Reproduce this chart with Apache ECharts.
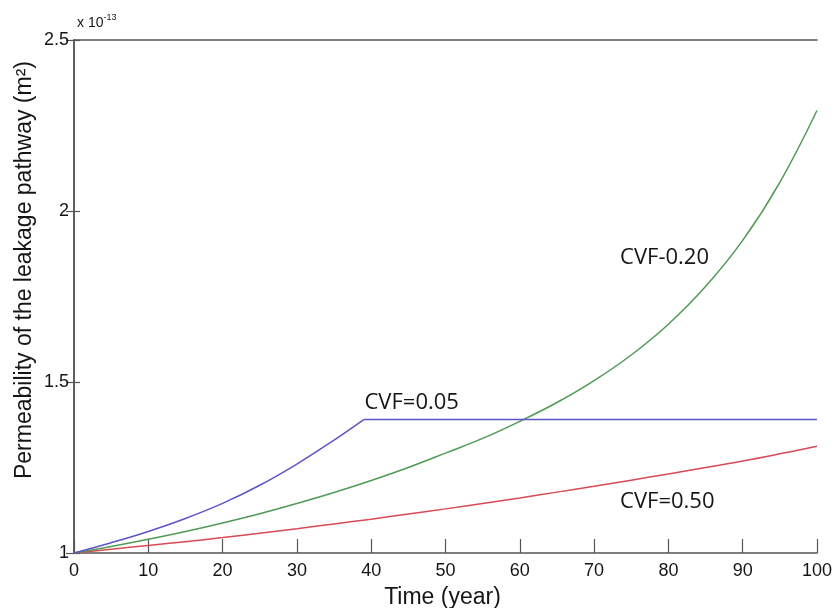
<!DOCTYPE html>
<html>
<head>
<meta charset="utf-8">
<script src="https://cdn.jsdelivr.net/npm/echarts@6/dist/echarts.min.js"></script>
<style>
  html, body { margin: 0; padding: 0; background: #fff; }
  #chart { width: 835px; height: 608px; }
</style>
</head>
<body>
<div id="chart"></div>
<script>
// Time axis (years)
const years = [0, 5, 10, 15, 20, 25, 30, 35, 40, 45, 50, 55, 60, 65, 70, 75, 80, 85, 90, 95, 100];

// Permeability of the leakage pathway, in units of 1e-13 m^2
// CVF = 0.05 rises until the pathway saturates at year 39, then stays flat
const years005 = [0, 5, 10, 15, 20, 25, 30, 35, 39, 100];
const cvf005   = [1.000, 1.030, 1.063, 1.101, 1.145, 1.198, 1.260, 1.330, 1.390, 1.390];
const cvf020 = [1.000, 1.019, 1.040, 1.063, 1.088, 1.115, 1.145, 1.177, 1.212, 1.250, 1.292, 1.335, 1.385, 1.440, 1.504, 1.579, 1.669, 1.779, 1.914, 2.084, 2.294];
const cvf050 = [1.000, 1.011, 1.022, 1.033, 1.045, 1.058, 1.071, 1.085, 1.099, 1.114, 1.129, 1.145, 1.161, 1.178, 1.195, 1.213, 1.231, 1.250, 1.269, 1.290, 1.312];

// Curve annotations: [text, x (year), y (1e-13 m^2)]
const curveLabels = [
  ['CVF=0.05', 39.1, 1.439],
  ['CVF-0.20', 73.5, 1.863],
  ['CVF=0.50', 73.5, 1.150]
];

const xTicks = { min: 0, max: 100, interval: 10 };
const yTicks = { min: 1, max: 2.5, interval: 0.5 };

const axisColor = '#555';
const textColor = '#151515';

function pairs(xs, ys) { return xs.map((x, i) => [x, ys[i]]); }

const chart = echarts.init(document.getElementById('chart'), null, { renderer: 'canvas' });

const lineSeries = (data, color, smooth) => ({
  type: 'line',
  data: data,
  showSymbol: false,
  smooth: smooth,
  lineStyle: { color: color, width: 1.5 },
  animation: false,
  z: 3
});

// Split the saturating curve at its knee so the flat part stays straight
const knee = years005.indexOf(39);
const blueAll = pairs(years005, cvf005);
const blueRise = blueAll.slice(0, knee + 1);
const blueFlat = blueAll.slice(knee);

chart.setOption({
  animation: false,
  backgroundColor: '#fff',
  grid: { left: 74, right: 16, top: 40, bottom: 55, containLabel: false },
  xAxis: [{
    type: 'value',
    min: xTicks.min, max: xTicks.max, interval: xTicks.interval,
    axisLine: { show: true, onZero: false, lineStyle: { color: axisColor, width: 1.5 } },
    axisTick: { show: true, inside: true, length: 14, lineStyle: { color: axisColor, width: 1.2 } },
    axisLabel: { color: textColor, fontFamily: 'Liberation Sans, Arial, sans-serif', fontSize: 18, margin: 9 },
    splitLine: { show: false }
  }, {
    type: 'value', position: 'top',
    min: xTicks.min, max: xTicks.max, interval: xTicks.interval,
    axisLine: { show: true, lineStyle: { color: axisColor, width: 1.5 } },
    axisTick: { show: false },
    axisLabel: { show: false },
    splitLine: { show: false }
  }],
  yAxis: [{
    type: 'value',
    min: yTicks.min, max: yTicks.max, interval: yTicks.interval,
    axisLine: { show: true, onZero: false, lineStyle: { color: axisColor, width: 1.5 } },
    axisTick: { show: true, inside: true, length: 6, lineStyle: { color: axisColor, width: 1.2 } },
    axisLabel: { color: textColor, fontFamily: 'Liberation Sans, Arial, sans-serif', fontSize: 18, margin: 5 },
    splitLine: { show: false }
  }, {
    type: 'value', position: 'right',
    min: yTicks.min, max: yTicks.max, interval: yTicks.interval,
    axisLine: { show: true, lineStyle: { color: axisColor, width: 1.5 } },
    axisTick: { show: true, inside: true, length: 8, lineStyle: { color: axisColor, width: 1.2 } },
    axisLabel: { show: false },
    splitLine: { show: false }
  }],
  series: [
    lineSeries(pairs(years, cvf050), '#d84a55', 0.4),
    lineSeries(pairs(years, cvf020), '#4f9a55', 0.4),
    lineSeries(blueRise, '#5c55c8', 0.4),
    lineSeries(blueFlat, '#5c55c8', false)
  ]
});

// Annotations placed through the grid's coordinate system
const graphics = curveLabels.map(([txt, x, y]) => {
  const p = chart.convertToPixel({ gridIndex: 0 }, [x, y]);
  return {
    type: 'text', x: p[0], y: p[1], z: 10,
    style: {
      text: txt, fill: textColor,
      font: '22px "Open Sans", sans-serif',
      textAlign: 'left', textVerticalAlign: 'middle'
    }
  };
});

const topLeft = chart.convertToPixel({ gridIndex: 0 }, [xTicks.min, yTicks.max]);
const bottomRight = chart.convertToPixel({ gridIndex: 0 }, [xTicks.max, yTicks.min]);

// Exponent multiplier above the y axis
graphics.push({
  type: 'text', x: topLeft[0] + 3, y: topLeft[1] - 10, z: 10,
  style: {
    text: '{b|x 10}{s|-13}',
    textVerticalAlign: 'bottom',
    rich: {
      b: { font: '14px "Liberation Sans", Arial, sans-serif', fill: textColor, verticalAlign: 'bottom' },
      s: { font: '9px "Liberation Sans", Arial, sans-serif', fill: textColor, verticalAlign: 'top', padding: [0, 0, 8, 0] }
    }
  }
});

// X axis title
graphics.push({
  type: 'text', x: (topLeft[0] + bottomRight[0]) / 2 - 3, y: 598, z: 10,
  style: {
    text: 'Time (year)', fill: textColor,
    font: '23px "Liberation Sans", Arial, sans-serif',
    textAlign: 'center', textVerticalAlign: 'middle'
  }
});

// Y axis title (rotated)
graphics.push({
  type: 'text', x: 25, y: 270, rotation: Math.PI / 2, z: 10,
  style: {
    text: 'Permeability of the leakage pathway (m\u00B2)', fill: textColor,
    font: '23px "Liberation Sans", Arial, sans-serif',
    textAlign: 'center', textVerticalAlign: 'middle'
  }
});

chart.setOption({ graphic: graphics });
</script>
</body>
</html>
